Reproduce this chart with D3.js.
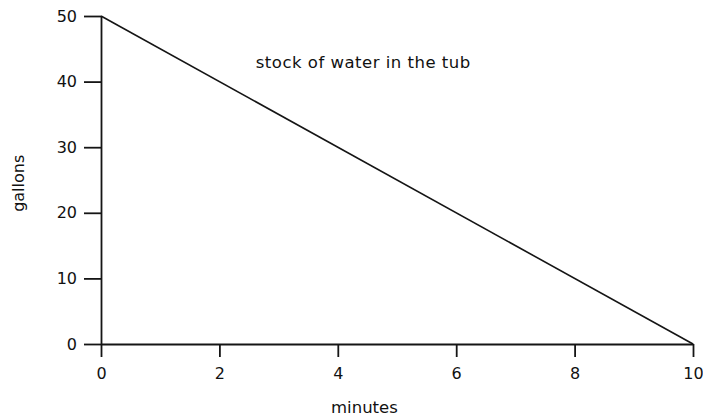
<!DOCTYPE html>
<html>
<head>
<meta charset="utf-8">
<script src="https://cdn.jsdelivr.net/npm/d3@7"></script>
<style>
  body { margin: 0; background: #fff; }
  svg text { font-family: 'DejaVu Sans', sans-serif; fill: #111; }
</style>
</head>
<body>
<svg width="703" height="417"></svg>
<script>
const minutes = [0, 10];
const gallons = [50, 0];
const xTicks = [0, 2, 4, 6, 8, 10];
const yTicks = [0, 10, 20, 30, 40, 50];
const title = 'stock of water in the tub';
const xLabel = 'minutes';
const yLabel = 'gallons';

const margin = { left: 101, right: 10, top: 16, bottom: 73 };

const svg = d3.select('svg');
const width = +svg.attr('width');
const height = +svg.attr('height');
const innerWidth = width - margin.left - margin.right;
const innerHeight = height - margin.top - margin.bottom;

const g = svg.append('g')
    .attr('transform', `translate(${margin.left},${margin.top})`);

const xScale = d3.scaleLinear().domain([0, 10]).range([0, innerWidth]);
const yScale = d3.scaleLinear().domain([0, 50]).range([innerHeight, 0]);

const xAxisG = g.append('g')
    .attr('transform', `translate(0, ${innerHeight})`)
    .call(d3.axisBottom(xScale).tickValues(xTicks).tickSize(13).tickPadding(11).tickSizeOuter(0));

const yAxisG = g.append('g')
    .call(d3.axisLeft(yScale).tickValues(yTicks).tickSize(17).tickPadding(7).tickSizeOuter(0));

[xAxisG, yAxisG].forEach(a => {
  a.attr('font-family', null).attr('font-size', 16);
  a.selectAll('path, line').attr('stroke', '#151515').attr('stroke-width', 1.8);
  a.selectAll('text').attr('fill', '#111');
});

const data = minutes.map((m, i) => ({ m, v: gallons[i] }));
const line = d3.line().x(d => xScale(d.m)).y(d => yScale(d.v));

g.append('path')
    .datum(data)
    .attr('fill', 'none')
    .attr('stroke', '#151515')
    .attr('stroke-width', 1.6)
    .attr('d', line);

g.append('text')
    .attr('x', xScale(4.43))
    .attr('y', 52)
    .attr('font-size', 16.5)
    .attr('letter-spacing', 0.5)
    .attr('text-anchor', 'middle')
    .text(title);

g.append('text')
    .attr('x', xScale(4.45))
    .attr('y', innerHeight + 69)
    .attr('font-size', 16.5)
    .attr('text-anchor', 'middle')
    .text(xLabel);

g.append('text')
    .attr('transform', `translate(-77, ${yScale(24.5)}) rotate(-90)`)
    .attr('font-size', 16)
    .attr('text-anchor', 'middle')
    .text(yLabel);
</script>
</body>
</html>
